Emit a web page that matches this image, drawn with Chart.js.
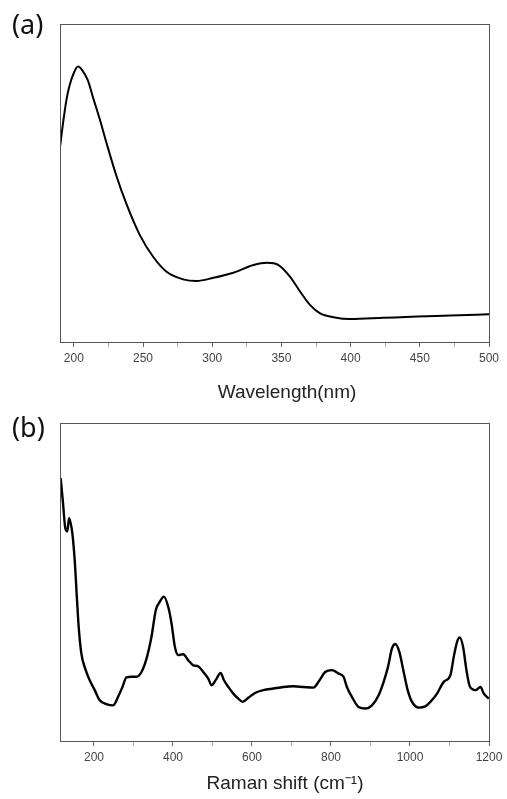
<!DOCTYPE html>
<html>
<head>
<meta charset="utf-8">
<script src="https://cdn.jsdelivr.net/npm/chart.js@4/dist/chart.umd.min.js"></script>
<style>
  body { margin: 0; background: #fff; }
  #wrap { position: relative; width: 507px; height: 799px; }
  canvas { position: absolute; left: 0; }
  #uvChart { top: 0; }
  #ramanChart { top: 400px; }
</style>
</head>
<body>
<div id="wrap">
  <canvas id="uvChart" width="507" height="410"></canvas>
  <canvas id="ramanChart" width="507" height="399"></canvas>
</div>
<script>
// (a) UV-Vis spectrum (intensidade relativa 0-100)
const uvWavelength = [190, 192, 194.6, 197, 200, 203, 206, 210, 214, 218.7, 223.6, 230.8, 238, 247.7, 257.3, 267, 279, 288.8, 300.8, 315.3, 329.8, 339.5, 347.9, 356.3, 363.6, 370.8, 378, 387.7, 399.8, 423.9, 448, 472.2, 500];
const uvAbsorbance = [61.3, 68.2, 76, 80.8, 84.6, 86.6, 85.5, 82.4, 76.7, 70.1, 62.6, 52.2, 43.4, 33.6, 26.8, 22.1, 19.7, 19.2, 20.2, 21.8, 24.2, 24.9, 24.2, 20.5, 15.8, 11.6, 9.0, 7.8, 7.2, 7.6, 8.0, 8.3, 8.7];
const uvTicks = [200, 225, 250, 275, 300, 325, 350, 375, 400, 425, 450, 475, 500];
const uvTickLabels = [200, 250, 300, 350, 400, 450, 500];

// (b) Raman spectrum
const ramanShift = [115.7, 121.6, 127.5, 132.6, 136.8, 141, 145.3, 151.2, 157.1, 161.3, 168.1, 179.1, 189.2, 201.9, 214.6, 231.5, 248.4, 261.1, 272.1, 282.2, 294.9, 307.6, 320.3, 333, 345.6, 356.6, 366.8, 377, 387.9, 396.3, 404.8, 413.2, 425.9, 438.6, 451.3, 464, 476.7, 489.4, 497.8, 508.8, 520.6, 529.1, 540.1, 552.7, 565.4, 576.4, 590.8, 607.7, 628.9, 654.2, 679.6, 705, 730.3, 755.7, 770.9, 785.3, 802.2, 819.1, 831.8, 840.3, 852.9, 869.8, 886.7, 903.7, 920.6, 933.3, 944.3, 954.4, 962.9, 973, 984, 994.1, 1005.1, 1022, 1038.9, 1051.6, 1068.5, 1085.4, 1102.3, 1110.8, 1119.2, 1126, 1134.4, 1142.9, 1151.3, 1165.7, 1178.4, 1186.9, 1199.5];
const ramanIntensity = [82.7, 74.8, 66.9, 65.9, 70.1, 68.5, 65.3, 56.9, 44.3, 35.9, 27.5, 22.3, 19.1, 16, 12.8, 11.6, 11.2, 13.9, 17, 20, 20.2, 20.2, 21.7, 25.9, 32.8, 41.2, 43.8, 45.4, 42.2, 37, 29.6, 27, 27.3, 25.4, 23.8, 23.5, 21.7, 19.6, 17.5, 19.3, 21.4, 19.1, 17, 14.9, 13.3, 12.3, 13.6, 15.1, 16, 16.5, 17, 17.2, 17, 16.8, 19.1, 21.7, 22.3, 21.2, 20.2, 17, 13.9, 10.7, 10.2, 11.2, 14.4, 18.6, 23.3, 29.1, 30.5, 28, 21.7, 16, 12.3, 10.5, 10.9, 12.3, 14.9, 18.6, 20.7, 26.5, 31.2, 32.6, 29.6, 22.3, 17.2, 16, 17, 14.9, 13.3];
const ramanTicks = [200, 300, 400, 500, 600, 700, 800, 900, 1000, 1100, 1200];
const ramanTickLabels = [200, 400, 600, 800, 1000, 1200];

// moldura + rótulos do painel e título do eixo
const framePlugin = {
    id: 'frame',
    afterDraw(chart, args, opts) {
        const ctx = chart.ctx;
        const a = chart.chartArea;
        ctx.save();
        ctx.strokeStyle = '#555';
        ctx.lineWidth = 1;
        ctx.strokeRect(Math.round(a.left) + 0.5, Math.round(a.top) + 0.5,
            Math.round(a.right - a.left), Math.round(a.bottom - a.top));

        ctx.fillStyle = '#111';
        ctx.font = '27px "Noto Sans"';
        ctx.textAlign = 'left';
        ctx.textBaseline = 'alphabetic';
        ctx.fillText(opts.panel, 12, opts.panelY);

        ctx.fillStyle = '#222';
        ctx.font = '19px "Liberation Sans"';
        ctx.textAlign = 'center';
        ctx.fillText(opts.title, opts.titleX, opts.titleY);
        ctx.restore();
    }
};

function makeOptions(minX, maxX, ticks, labels, axisHeight, padTop, frameOpts) {
    return {
        responsive: false,
        animation: false,
        layout: { padding: { left: 60, right: 18, top: padTop, bottom: 0 } },
        plugins: {
            legend: { display: false },
            tooltip: { enabled: false },
            frame: frameOpts
        },
        scales: {
            x: {
                type: 'linear',
                min: minX,
                max: maxX,
                afterBuildTicks: (axis) => { axis.ticks = ticks.map(v => ({ value: v })); },
                afterFit: (scale) => { scale.height = axisHeight; },
                border: { display: false },
                grid: {
                    drawOnChartArea: false,
                    tickLength: 5,
                    tickColor: (c) => (c.tick && labels.includes(c.tick.value)) ? '#666' : '#aaa'
                },
                ticks: {
                    autoSkip: false,
                    maxRotation: 0,
                    padding: 4,
                    color: '#444',
                    font: { family: 'Liberation Sans', size: 12 },
                    callback: (v) => labels.includes(v) ? String(v) : ''
                }
            },
            y: { display: false, min: 0, max: 100 }
        }
    };
}

new Chart(document.getElementById('uvChart'), {
    type: 'line',
    data: {
        datasets: [{
            data: uvWavelength.map((x, i) => ({ x: x, y: uvAbsorbance[i] })),
            borderColor: '#000',
            borderWidth: 2,
            pointRadius: 0,
            cubicInterpolationMode: 'monotone'
        }]
    },
    options: makeOptions(190, 500, uvTicks, uvTickLabels, 68, 24,
        { panel: '(a)', panelY: 34, title: 'Wavelength(nm)', titleX: 287, titleY: 398 }),
    plugins: [framePlugin]
});

new Chart(document.getElementById('ramanChart'), {
    type: 'line',
    data: {
        datasets: [{
            data: ramanShift.map((x, i) => ({ x: x, y: ramanIntensity[i] })),
            borderColor: '#000',
            borderWidth: 2.4,
            pointRadius: 0,
            cubicInterpolationMode: 'monotone'
        }]
    },
    options: makeOptions(114, 1200, ramanTicks, ramanTickLabels, 58, 23,
        { panel: '(b)', panelY: 37, title: 'Raman shift (cm\u207B\u00B9)', titleX: 285, titleY: 389 }),
    plugins: [framePlugin]
});
</script>
</body>
</html>
